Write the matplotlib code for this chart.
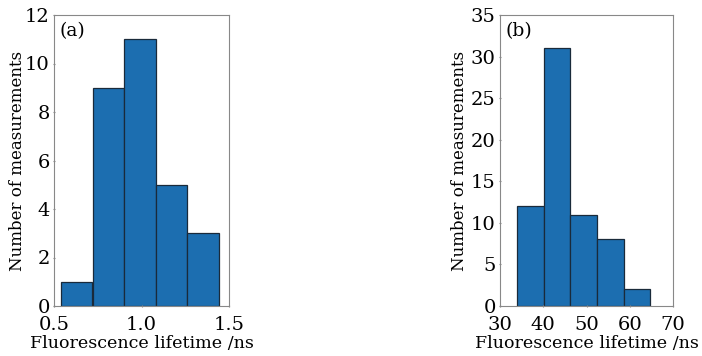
import matplotlib
matplotlib.use("Agg")
import matplotlib.pyplot as plt

# panel (a)
edges_a = [0.54, 0.72, 0.90, 1.08, 1.26, 1.44]
counts_a = [1, 9, 11, 5, 3]
# panel (b)
edges_b = [34.0, 40.1, 46.3, 52.4, 58.6, 64.7]
counts_b = [12, 31, 11, 8, 2]

plt.rcParams["font.family"] = ["DejaVu Serif"]
plt.rcParams["font.size"] = 13

fig = plt.figure(figsize=(7.02, 3.56), dpi=100)
W, H = 702, 356
ax_a = fig.add_axes([54 / W, 1 - 306 / H, 175 / W, 291 / H])
ax_b = fig.add_axes([500 / W, 1 - 306 / H, 173 / W, 291 / H])


def draw(ax, edges, counts, xlim, xticks, ylim, yticks, tag, ypad):
    widths = [edges[i + 1] - edges[i] for i in range(len(counts))]
    ax.bar(edges[:-1], counts, width=widths, align="edge",
           color="#1c6eb0", edgecolor="#1a2a3a", linewidth=0.9)
    ax.set_xlim(*xlim)
    ax.set_ylim(*ylim)
    ax.set_xticks(xticks)
    ax.set_yticks(yticks)
    ax.tick_params(axis="both", length=2, direction="inout", color="#888888",
                   labelsize=14)
    ax.tick_params(axis="x", pad=6)
    ax.tick_params(axis="y", pad=2)
    for s in ax.spines.values():
        s.set_color("#888888")
    ax.set_xlabel("Fluorescence lifetime /ns", fontsize=12.6, labelpad=1)
    ax.set_ylabel("Number of measurements", fontsize=12, labelpad=ypad)
    ax.text(0.03, 0.975, tag, transform=ax.transAxes, va="top", ha="left",
            fontsize=13.5)


draw(ax_a, edges_a, counts_a, (0.5, 1.5), [0.5, 1.0, 1.5], (0, 12),
     [0, 2, 4, 6, 8, 10, 12], "(a)", -1)
ax_a.set_xticklabels(["0.5", "1.0", "1.5"])
draw(ax_b, edges_b, counts_b, (30, 70), [30, 40, 50, 60, 70], (0, 35),
     [0, 5, 10, 15, 20, 25, 30, 35], "(b)", 2)

fig.savefig("out.png", dpi=100)
